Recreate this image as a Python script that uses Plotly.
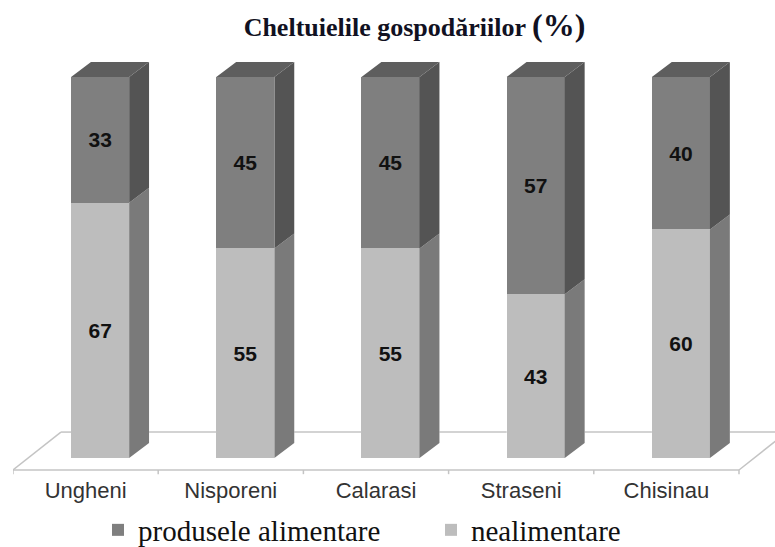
import plotly.graph_objects as go

categories = ["Ungheni", "Nisporeni", "Calarasi", "Straseni", "Chisinau"]
nealimentare = [67, 55, 55, 43, 60]
alimentare = [33, 45, 45, 57, 40]

FRONT_L, SIDE_L = "#bdbdbd", "#7a7a7a"
FRONT_D, TOP_D, SIDE_D = "#7f7f7f", "#5e5e5e", "#545454"
FLOOR = "#c4c4c4"
BAR_W, BAR_SHIFT = 0.4, 0.1
DX, DY = 0.137, 3.94          # oblique depth of a bar in axis units
FDX, FY_FRONT, FY_BACK = 0.33, -3.15, 6.8
TICK = 1.1

pos = list(range(len(categories)))
centers = [p + BAR_SHIFT for p in pos]
bounds = [p - 0.5 for p in pos] + [pos[-1] + 0.5]


def poly(points_list):
    xs, ys = [], []
    for pts in points_list:
        for x, y in pts:
            xs.append(x)
            ys.append(y)
        xs.append(pts[0][0]); ys.append(pts[0][1])
        xs.append(None); ys.append(None)
    return xs, ys


def face(points_list, color):
    xs, ys = poly(points_list)
    return go.Scatter(x=xs, y=ys, mode="lines", fill="toself", fillcolor=color,
                      line=dict(width=0, color=color), showlegend=False,
                      hoverinfo="skip")


fig = go.Figure()

# front faces
fig.add_trace(go.Bar(x=centers, y=nealimentare, name="nealimentare", width=BAR_W,
                     marker=dict(color=FRONT_L, line_width=0),
                     text=nealimentare, textposition="inside",
                     insidetextanchor="middle", textangle=0))
fig.add_trace(go.Bar(x=centers, y=alimentare, name="produsele alimentare", width=BAR_W,
                     marker=dict(color=FRONT_D, line_width=0),
                     text=alimentare, textposition="inside",
                     insidetextanchor="middle", textangle=0))

# floor: front edge with ticks, side edges, back edge broken behind the bars
fx, fy = [bounds[0], bounds[-1], None], [FY_FRONT, FY_FRONT, None]
for b in bounds:
    fx += [b, b, None]
    fy += [FY_FRONT, FY_FRONT - TICK, None]
fx += [bounds[0], bounds[0] + FDX, None]
fy += [FY_FRONT, FY_BACK, None]
cursor = bounds[0] + FDX
for c in centers:
    fx += [cursor, c - BAR_W / 2, None]
    fy += [FY_BACK, FY_BACK, None]
    cursor = c + BAR_W / 2 + DX
fx += [cursor, bounds[-1] + FDX, bounds[-1], None]
fy += [FY_BACK, FY_BACK, FY_FRONT, None]
fig.add_trace(go.Scatter(x=fx, y=fy, mode="lines", line=dict(color=FLOOR, width=1.5),
                         showlegend=False, hoverinfo="skip"))

# side and top faces
side_l, side_d, tops = [], [], []
for c, a, b in zip(centers, nealimentare, alimentare):
    r = c + BAR_W / 2
    l = c - BAR_W / 2
    side_l.append([(r, 0), (r + DX, DY), (r + DX, a + DY), (r, a)])
    side_d.append([(r, a), (r + DX, a + DY), (r + DX, a + b + DY), (r, a + b)])
    tops.append([(l, a + b), (l + DX, a + b + DY), (r + DX, a + b + DY), (r, a + b)])
fig.add_trace(face(side_l, SIDE_L))
fig.add_trace(face(side_d, SIDE_D))
fig.add_trace(face(tops, TOP_D))

fig.update_layout(
    width=775, height=547, autosize=False,
    margin=dict(l=13, r=0, t=0, b=70),
    paper_bgcolor="white", plot_bgcolor="white",
    barmode="stack", hovermode=False,
    font=dict(family="Liberation Sans", color="#222222"),
    uniformtext=dict(mode=False),
    title=dict(
        text="<b>Cheltuielile gospodăriilor <span style='font-size:32px'>(%)</span></b>",
        x=(414.5 - 13) / 762, xanchor="center", xref="paper", y=1 - 27 / 547, yanchor="middle",
        font=dict(family="Liberation Serif", size=26, color="#111122"),
    ),
    xaxis=dict(range=[-0.5, 4.748], tickvals=pos, ticktext=categories, showgrid=False,
               zeroline=False, showline=False,
               ticks="", tickfont=dict(size=22, color="#333333"), fixedrange=True,
               ticklabelstandoff=-2),
    yaxis=dict(range=[-4.99, 120.21], visible=False, fixedrange=True),
    showlegend=True,
    legend=dict(orientation="h", traceorder="reversed",
                xref="container", yref="container",
                x=98 / 775, xanchor="left",
                y=(547 - 530) / 547, yanchor="middle", bgcolor="rgba(0,0,0,0)",
                font=dict(family="Liberation Serif", size=29, color="#111111"),
                entrywidthmode="pixels", entrywidth=288),
)
fig.update_traces(textfont=dict(family="Liberation Sans", size=21, color="#111111", weight="bold"),
                  selector=dict(type="bar"))

fig.write_html("out.html", config={"displayModeBar": False},
               post_script="document.body.style.margin='0';document.body.style.overflow='hidden';")
